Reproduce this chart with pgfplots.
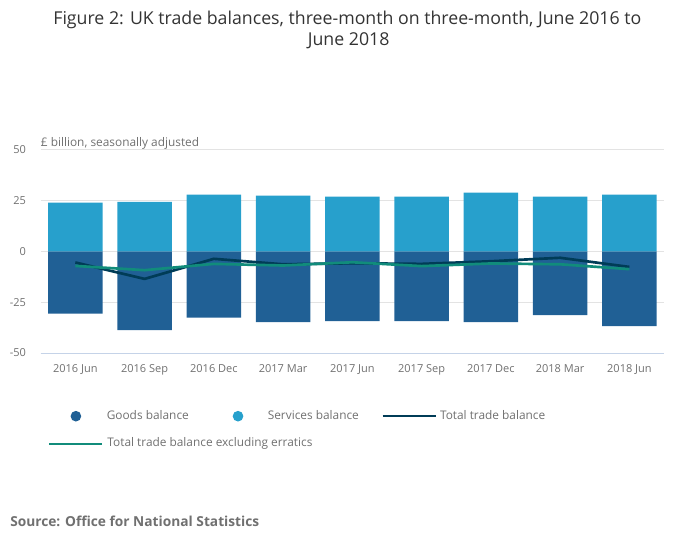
\documentclass[border=0pt]{standalone}
\usepackage{pgfplots}
\pgfplotsset{compat=1.18}
\usepackage{fontspec}
\setmainfont{Open Sans}
\definecolor{goods}{HTML}{206095}
\definecolor{services}{HTML}{27A0CC}
\definecolor{totalc}{HTML}{003C57}
\definecolor{exclc}{HTML}{118C7B}
\definecolor{gridc}{HTML}{E3E3E3}
\definecolor{axisc}{HTML}{C5D3E8}
\definecolor{txt}{HTML}{707070}
\definecolor{titlec}{HTML}{333333}
\begin{document}
\begin{tikzpicture}
\path[use as bounding box] (0,0) rectangle (525pt,-411.75pt);
\node[anchor=base, text=titlec, font=\fontsize{13.3}{15}\selectfont, inner sep=0pt] at (260.5pt,-18.75pt) {Figure 2: UK trade balances, three-month on three-month, June 2016 to};
\node[anchor=base, text=titlec, font=\fontsize{13.3}{15}\selectfont, inner sep=0pt] at (261.5pt,-34.3pt) {June 2018};
\node[anchor=base west, text=txt, font=\fontsize{8.9}{10}\selectfont, inner sep=0pt] at (30.5pt,-110pt) {£ billion, seasonally adjusted};
\node[anchor=base west, text=txt, font=\fontsize{10.3}{12}\selectfont\bfseries, inner sep=0pt] at (7.5pt,-395pt) {Source: Office for National Statistics};
\begin{axis}[
  at={(30.525pt,-264.75pt)}, anchor=south west,
  scale only axis, width=467.5pt, height=152.25pt,
  xmin=-0.5, xmax=8.5, ymin=-50, ymax=50,
  axis x line*=bottom, axis y line*=left,
  x axis line style={color=axisc, line width=0.75pt},
  y axis line style={draw=none},
  xtick={0,...,8},
  xticklabels={2016 Jun,2016 Sep,2016 Dec,2017 Mar,2017 Jun,2017 Sep,2017 Dec,2018 Mar,2018 Jun},
  xtick style={draw=none},
  xticklabel style={text=txt, font=\fontsize{8.25}{10}\selectfont, yshift=-5.3pt},
  extra x ticks={-0.5,0.5,1.5,2.5,3.5,4.5,5.5,6.5,7.5,8.5},
  extra x tick labels={},
  extra x tick style={major tick length=6.75pt, tick align=outside, major tick style={draw=axisc, line width=0.75pt}, grid=none},
  ytick={-50,-25,0,25,50},
  yticklabels={-50,-25,0,25,50},
  ytick style={draw=none},
  yticklabel style={text=txt, font=\fontsize{8.25}{10}\selectfont, xshift=-7.5pt},
  ymajorgrids, major grid style={color=gridc, line width=0.75pt},
  legend columns=3,
  legend cell align=left,
  legend style={at={(0.0122,-0.285)}, anchor=north west, draw=none, fill=none,
    inner sep=0pt, outer sep=0pt, row sep=13pt,
    nodes={inner sep=0pt, text=txt, font=\fontsize{8.9}{10}\selectfont, text height=6pt, text depth=1.5pt},
    /tikz/every odd column/.append style={column sep=2.5pt},
    /tikz/every even column/.append style={column sep=17pt}},
]
\addplot[ybar, bar width=0.785, bar shift=0pt, fill=goods, draw=none,
  legend image code/.code={\path[draw=none,fill=none] (0pt,0pt) -- (39.75pt,0pt); \fill[goods] (19.9pt,0pt) circle (4pt);}]
  coordinates {(0,-30.6) (1,-38.7) (2,-32.6) (3,-34.8) (4,-34.3) (5,-34.3) (6,-34.8) (7,-31.3) (8,-36.7)};
\addlegendentry{Goods balance}
\addplot[ybar, bar width=0.785, bar shift=0pt, fill=services, draw=none,
  legend image code/.code={\path[draw=none,fill=none] (0pt,0pt) -- (39.75pt,0pt); \fill[services] (19.9pt,0pt) circle (4pt);}]
  coordinates {(0,24.05) (1,24.5) (2,28.0) (3,27.5) (4,27.0) (5,27.0) (6,29.0) (7,27.0) (8,28.0)};
\addlegendentry{Services balance}
\addplot[totalc, line width=2pt, line join=round, no marks,
  legend image code/.code={\draw[totalc, line width=1.6pt] (0pt,0pt) -- (39.75pt,0pt);}]
  coordinates {(0,-5.4) (1,-13.5) (2,-3.6) (3,-6.3) (4,-5.8) (5,-6.1) (6,-4.8) (7,-3.1) (8,-7.6)};
\addlegendentry{Total trade balance}
\addplot[exclc, line width=2pt, line join=round, no marks,
  legend image code/.code={\draw[exclc, line width=1.6pt] (0pt,0pt) -- (39.75pt,0pt);}]
  coordinates {(0,-7.1) (1,-9.2) (2,-6.1) (3,-6.9) (4,-5.3) (5,-7.2) (6,-5.9) (7,-6.3) (8,-8.7)};
\addlegendentry{\makebox[0pt][l]{Total trade balance excluding erratics}}
\end{axis}
\end{tikzpicture}
\end{document}
